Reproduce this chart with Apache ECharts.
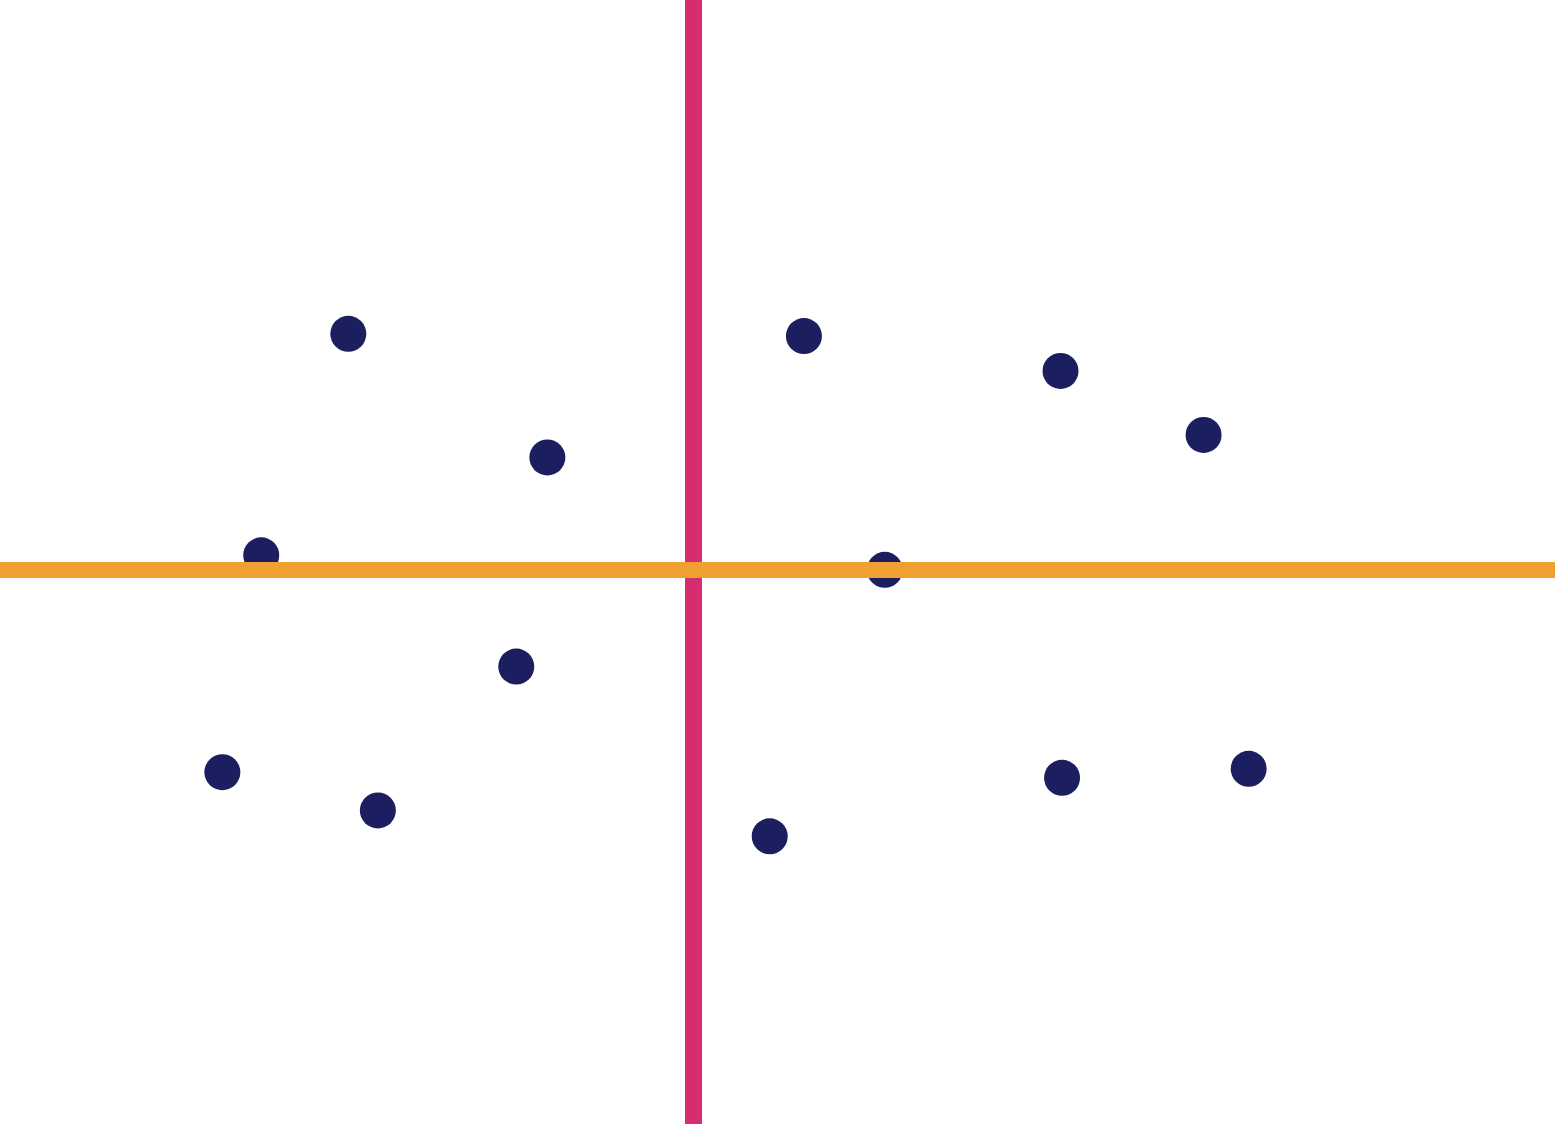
<!DOCTYPE html>
<html>
<head>
<meta charset="utf-8">
<script src="https://cdn.jsdelivr.net/npm/echarts@6/dist/echarts.min.js"></script>
<style>html,body{margin:0;padding:0;background:#fff}#c{width:1555px;height:1124px}</style>
</head>
<body>
<div id="c"></div>
<script>
const xValues = [22.4, 35.2, 16.8, 33.2, 14.3, 24.3, 51.7, 68.2, 77.4, 56.9, 49.5, 68.3, 80.3];
const yValues = [70.3, 59.3, 50.6, 40.7, 31.3, 27.9, 70.1, 67.0, 61.3, 49.3, 25.6, 30.8, 31.6];
const xMean = [44.6];
const yMean = [49.3];

const chart = echarts.init(document.getElementById('c'), null, {renderer: 'canvas'});
chart.setOption({
  animation: false,
  backgroundColor: '#ffffff',
  grid: {left: 0, right: 0, top: 0, bottom: 0},
  xAxis: {type: 'value', min: 0, max: 100, show: false},
  yAxis: {type: 'value', min: 0, max: 100, show: false},
  series: [
    {
      type: 'scatter',
      z: 2,
      symbolSize: 36,
      itemStyle: {color: '#1b1f5f', opacity: 1},
      data: xValues.map((x, i) => [x, yValues[i]])
    },
    {
      type: 'scatter',
      z: 5,
      data: [],
      markLine: {
        silent: true,
        symbol: 'none',
        label: {show: false},
        animation: false,
        data: [
          {xAxis: xMean[0], lineStyle: {color: '#d52c72', width: 17, type: 'solid', opacity: 1}},
          {yAxis: yMean[0], lineStyle: {color: '#f0a030', width: 16, type: 'solid', opacity: 1}}
        ]
      }
    }
  ]
});
</script>
</body>
</html>
